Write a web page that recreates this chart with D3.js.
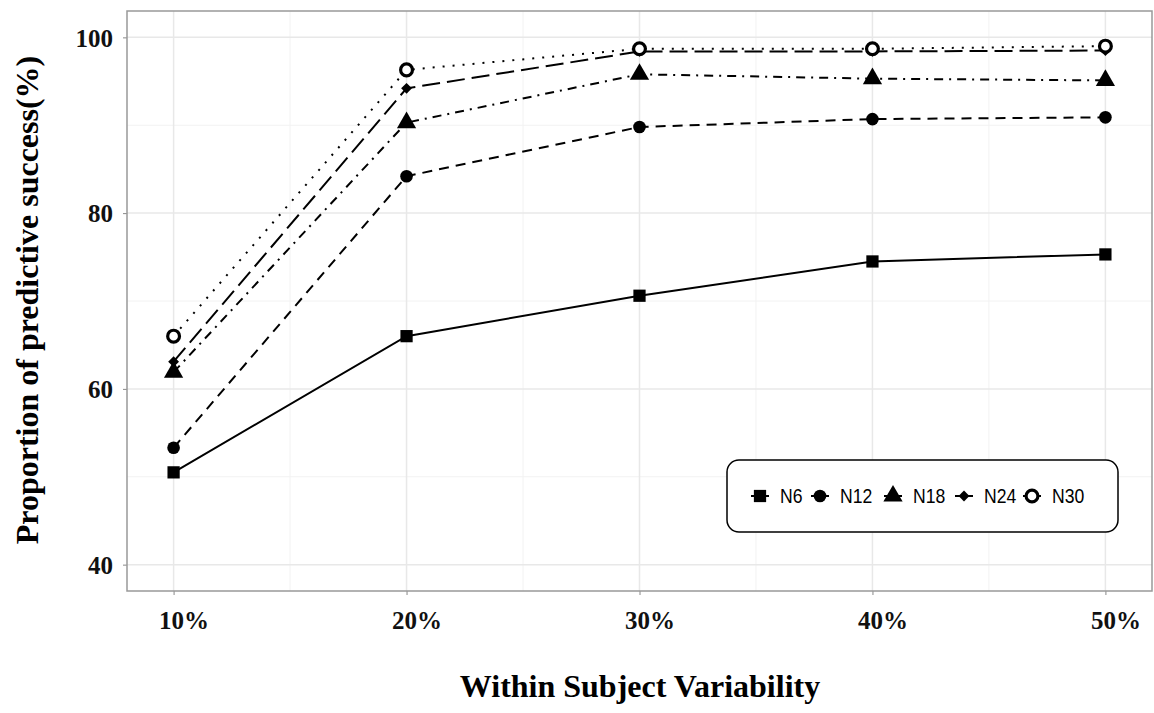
<!DOCTYPE html>
<html>
<head>
<meta charset="utf-8">
<script src="https://cdn.jsdelivr.net/npm/d3@7"></script>
<style>
  body { margin: 0; background: #fff; }
  .tick-lbl { font-family: "Liberation Serif", "Times New Roman", serif; font-weight: bold; font-size: 25px; }
  .ax-title { font-family: "Liberation Serif", "Times New Roman", serif; font-weight: bold; font-size: 32px; }
  .leg-txt { font-family: "Liberation Sans", Arial, sans-serif; font-size: 20px; }
</style>
</head>
<body>
<div class="graphContainer"></div>
<script>
const w = 1154;
const h = 713;

// data
const variability = [10, 20, 30, 40, 50];
const xLabels = ["10%", "20%", "30%", "40%", "50%"];
const yTicks = [40, 60, 80, 100];
const seriesNames = ["N6", "N12", "N18", "N24", "N30"];
const n6 = [50.5, 66.0, 70.6, 74.5, 75.3];
const n12 = [53.3, 84.2, 89.8, 90.7, 90.9];
const n18 = [61.9, 90.3, 95.8, 95.3, 95.1];
const n24 = [63.1, 94.2, 98.4, 98.4, 98.5];
const n30 = [66.0, 96.3, 98.7, 98.7, 99.0];

const seriesVals = [n6, n12, n18, n24, n30];
const dashes = [null, "10,7", "9,6,2,6", "18,7", "2,8"];
const shapes = [d3.symbolSquare, d3.symbolCircle, d3.symbolTriangle, d3.symbolDiamond2, d3.symbolCircle];
const sizes = [150, 125, 160, 75, 110];

//panel box
const pLeft = 127, pRight = 1152, pTop = 11, pBottom = 591;

const svg = d3.select(".graphContainer").append("svg")
  .attr("width", w).attr("height", h);

const x = d3.scaleLinear().domain([8, 52]).range([pLeft, pRight]);
const y = d3.scaleLinear().domain([37, 103]).range([pBottom, pTop]);

// gridlines (minor then major)
const grid = svg.append("g");
grid.selectAll(".vminor").data([15, 25, 35, 45]).enter().append("line")
  .attr("x1", d => x(d)).attr("x2", d => x(d)).attr("y1", pTop).attr("y2", pBottom)
  .attr("stroke", "#f2f2f2").attr("stroke-width", 1);
grid.selectAll(".hminor").data([50, 70, 90]).enter().append("line")
  .attr("y1", d => y(d)).attr("y2", d => y(d)).attr("x1", pLeft).attr("x2", pRight)
  .attr("stroke", "#f2f2f2").attr("stroke-width", 1);
grid.selectAll(".vmajor").data(variability).enter().append("line")
  .attr("x1", d => x(d)).attr("x2", d => x(d)).attr("y1", pTop).attr("y2", pBottom)
  .attr("stroke", "#e8e8e8").attr("stroke-width", 1.5);
grid.selectAll(".hmajor").data(yTicks).enter().append("line")
  .attr("y1", d => y(d)).attr("y2", d => y(d)).attr("x1", pLeft).attr("x2", pRight)
  .attr("stroke", "#e8e8e8").attr("stroke-width", 1.5);

// axes
const xAxis = svg.append("g").attr("transform", `translate(0,${pBottom})`)
  .call(d3.axisBottom(x).tickValues(variability).tickSize(4).tickFormat((d, i) => xLabels[i]));
const yAxis = svg.append("g").attr("transform", `translate(${pLeft},0)`)
  .call(d3.axisLeft(y).tickValues(yTicks).tickSize(4));
[xAxis, yAxis].forEach(a => {
  a.select(".domain").remove();
  a.selectAll(".tick line").attr("stroke", "#888");
  a.selectAll(".tick text").attr("class", "tick-lbl").attr("fill", "#111");
});
xAxis.selectAll(".tick text").attr("dy", 0).attr("y", 38).attr("dx", 10);
yAxis.selectAll(".tick text").attr("x", -14).attr("dy", "0.35em");

// panel border
svg.append("rect")
  .attr("x", pLeft).attr("y", pTop).attr("width", pRight - pLeft).attr("height", pBottom - pTop)
  .attr("fill", "none").attr("stroke", "#999").attr("stroke-width", 1.5);

// lines
const line = d3.line().x((d, i) => x(variability[i])).y(d => y(d));
svg.append("g").selectAll("path").data(seriesVals).enter().append("path")
  .attr("d", d => line(d))
  .attr("fill", "none").attr("stroke", "#000").attr("stroke-width", 2)
  .attr("stroke-dasharray", (d, i) => dashes[i]);

// markers
seriesVals.forEach((vals, s) => {
  svg.append("g").selectAll("path").data(vals).enter().append("path")
    .attr("transform", (d, i) => `translate(${x(variability[i])},${y(d)})`)
    .attr("d", d3.symbol().type(shapes[s]).size(sizes[s]))
    .attr("fill", s === 4 ? "#fff" : "#000")
    .attr("stroke", "#000")
    .attr("stroke-width", s === 4 ? 3.2 : 0);
});

// legend
const leg = svg.append("g");
leg.append("rect").attr("x", 727).attr("y", 460).attr("width", 391).attr("height", 72)
  .attr("rx", 12).attr("fill", "#fff").attr("stroke", "#000").attr("stroke-width", 1.5);
const legX = [760, 820, 893, 964, 1032];
seriesNames.forEach((name, s) => {
  leg.append("line")
    .attr("x1", legX[s] - 9).attr("x2", legX[s] + 9).attr("y1", 496).attr("y2", 496)
    .attr("stroke", "#000").attr("stroke-width", 2);
  leg.append("path")
    .attr("transform", `translate(${legX[s]},496)`)
    .attr("d", d3.symbol().type(shapes[s]).size(sizes[s]))
    .attr("fill", s === 4 ? "#fff" : "#000")
    .attr("stroke", "#000").attr("stroke-width", s === 4 ? 3.2 : 0);
  leg.append("text").attr("class", "leg-txt")
    .attr("transform", `translate(${legX[s] + 20},503) scale(0.88,1)`)
    .text(name);
});

// axis titles
svg.append("text").attr("class", "ax-title")
  .attr("x", 640).attr("y", 697).attr("text-anchor", "middle")
  .text("Within Subject Variability");
svg.append("text").attr("class", "ax-title")
  .attr("transform", "translate(38,300) rotate(-90)").attr("text-anchor", "middle")
  .text("Proportion of predictive success(%)");
</script>
</body>
</html>
